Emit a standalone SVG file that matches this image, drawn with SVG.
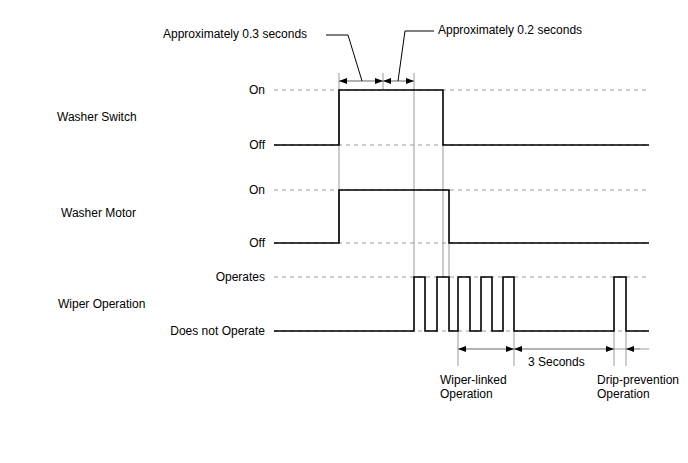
<svg xmlns="http://www.w3.org/2000/svg" width="688" height="463" viewBox="0 0 688 463">
<style>
text{font-family:"Liberation Sans",Arial,sans-serif;font-size:12px;fill:#000}
.r{text-anchor:end}
.sig{fill:none;stroke:#000;stroke-width:1.6}
.dash{fill:none;stroke:#999;stroke-width:1;stroke-dasharray:4,4}
.ext{fill:none;stroke:#999;stroke-width:1}
.dim{fill:none;stroke:#999;stroke-width:1}
.lead{fill:none;stroke:#000;stroke-width:1}
</style>
<defs>
<marker id="ah" viewBox="0 0 8 6" refX="8" refY="3" markerWidth="8" markerHeight="6" markerUnits="userSpaceOnUse" orient="auto-start-reverse">
<path d="M0,0 L8,3 L0,6 z" fill="#000"/>
</marker>
</defs>
<rect width="688" height="463" fill="#fff"/>
<g id="labels">
<text x="57" y="121">Washer Switch</text>
<text x="61" y="217">Washer Motor</text>
<text x="58" y="308">Wiper Operation</text>
<text class="r" x="265" y="94">On</text>
<text class="r" x="265" y="149">Off</text>
<text class="r" x="265" y="194">On</text>
<text class="r" x="265" y="247">Off</text>
<text class="r" x="265" y="281">Operates</text>
<text class="r" x="265" y="335">Does not Operate</text>
</g>
<g id="connectors">
<!-- dashed reference levels -->
<line class="dash" x1="274" y1="90" x2="649" y2="90"/>
<line class="dash" x1="274" y1="145" x2="649" y2="145"/>
<line class="dash" x1="274" y1="190" x2="649" y2="190"/>
<line class="dash" x1="274" y1="243" x2="649" y2="243"/>
<line class="dash" x1="274" y1="277" x2="649" y2="277"/>
<line class="dash" x1="274" y1="331" x2="649" y2="331"/>
<!-- extension lines -->
<line class="ext" x1="339" y1="73" x2="339" y2="243"/>
<line class="ext" x1="383" y1="73" x2="383" y2="90"/>
<line class="ext" x1="414" y1="73" x2="414" y2="277"/>
<line class="ext" x1="443" y1="145" x2="443" y2="277"/>
<line class="ext" x1="449" y1="243" x2="449" y2="277"/>
<line class="ext" x1="458" y1="331" x2="458" y2="366"/>
<line class="ext" x1="514" y1="331" x2="514" y2="366"/>
<line class="ext" x1="614" y1="331" x2="614" y2="366"/>
<line class="ext" x1="626" y1="331" x2="626" y2="366"/>
<!-- top dimension -->
<line class="dim" x1="339" y1="81" x2="414" y2="81"/>
<line class="dim" x1="339" y1="81" x2="383" y2="81" stroke="none" marker-start="url(#ah)" marker-end="url(#ah)"/>
<line class="dim" x1="383" y1="81" x2="414" y2="81" stroke="none" marker-start="url(#ah)" marker-end="url(#ah)"/>
<!-- bottom dimension -->
<line class="dim" x1="458" y1="349" x2="649" y2="349"/>
<line class="dim" x1="458" y1="349" x2="514" y2="349" stroke="none" marker-start="url(#ah)" marker-end="url(#ah)"/>
<line class="dim" x1="514" y1="349" x2="614" y2="349" stroke="none" marker-start="url(#ah)" marker-end="url(#ah)"/>
<line class="dim" x1="640" y1="349" x2="626" y2="349" stroke="none" marker-end="url(#ah)"/>
<!-- leaders -->
<polyline class="lead" points="326,35 348,35 362,81"/>
<polyline class="lead" points="434,31 405,31 398,81"/>
</g>
<g id="washer-switch">
<polyline class="sig" points="274,145 339,145 339,90 443,90 443,145 649,145"/>
</g>
<g id="washer-motor">
<polyline class="sig" points="274,243 339,243 339,190 449,190 449,243 649,243"/>
</g>
<g id="wiper-operation">
<polyline class="sig" points="274,331 414,331 414,277 425,277 425,331 437,331 437,277 449,277 449,331 458,331 458,277 470,277 470,331 481,331 481,277 492,277 492,331 503,331 503,277 514,277 514,331 614,331 614,277 626,277 626,331 649,331"/>
</g>
<g id="annotations">
<text x="163" y="38">Approximately 0.3 seconds</text>
<text x="438" y="34">Approximately 0.2 seconds</text>
<text x="528" y="366">3 Seconds</text>
<text x="440" y="384">Wiper-linked</text>
<text x="440" y="398">Operation</text>
<text x="597" y="384">Drip-prevention</text>
<text x="597" y="398">Operation</text>
</g>
</svg>
